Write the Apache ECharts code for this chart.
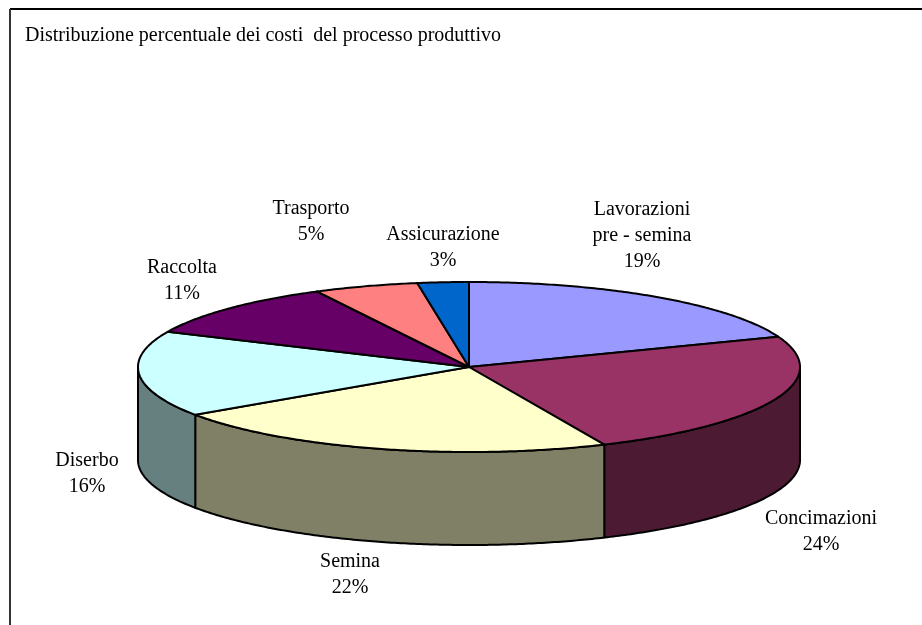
<!DOCTYPE html>
<html>
<head>
<meta charset="utf-8">
<title>Distribuzione percentuale dei costi</title>
<style>
  html, body { margin: 0; padding: 0; background: #fff; }
  #main { width: 922px; height: 625px; }
</style>
</head>
<body>
<div id="main"></div>
<script src="https://cdn.jsdelivr.net/npm/echarts@6/dist/echarts.min.js"></script>
<script>
const categories = ["Lavorazioni\npre - semina", "Concimazioni", "Semina", "Diserbo", "Raccolta", "Trasporto", "Assicurazione"];
const values = [19.2, 24.1, 22.2, 16.3, 10.6, 5.1, 2.5];
const topColors = ["#9999FF", "#993366", "#FFFFCC", "#CCFFFF", "#660066", "#FF8080", "#0066CC"];
const wallColors = ["#4D4D80", "#4D1A33", "#808066", "#668080", "#330033", "#804040", "#003366"];
// label centres, first line of text to last
const labelPos = [[642, 236], [821, 532], [350, 575], [87, 474], [182, 281], [311, 222], [443, 248]];

const cx = 469, cy = 367, rx = 331, ry = 85, depth = 93;
const total = values.reduce((a, b) => a + b, 0);

// angle is clockwise from the top of the ellipse
const pt = (a, dy) => [cx + rx * Math.sin(a), cy - ry * Math.cos(a) + (dy || 0)];

const arc = (from, to, dy) => {
  const n = Math.max(2, Math.ceil((to - from) / 0.01));
  const pts = [];
  for (let i = 0; i <= n; i++) pts.push(pt(from + (to - from) * i / n, dy));
  return pts;
};

const renderSlice = (params, api) => {
  const i = params.dataIndex;
  let before = 0;
  for (let k = 0; k < i; k++) before += values[k];
  const a0 = before / total * Math.PI * 2;
  const a1 = (before + api.value(0)) / total * Math.PI * 2;
  const children = [];

  // only the part of the rim facing the viewer has a wall
  const w0 = Math.max(a0, Math.PI / 2);
  const w1 = Math.min(a1, Math.PI * 1.5);
  if (w1 > w0) {
    children.push({
      type: "polygon",
      shape: { points: arc(w0, w1, 0).concat(arc(w0, w1, depth).reverse()) },
      style: { fill: wallColors[i], stroke: "#000", lineWidth: 2, lineJoin: "round" }
    });
  }
  children.push({
    type: "polygon",
    shape: { points: [[cx, cy]].concat(arc(a0, a1, 0)) },
    style: { fill: topColors[i], stroke: "#000", lineWidth: 2, lineJoin: "round" }
  });
  children.push({
    type: "text",
    style: {
      x: labelPos[i][0],
      y: labelPos[i][1],
      text: categories[i] + "\n" + Math.round(api.value(0)) + "%",
      fill: "#000",
      font: '20px "Liberation Serif"',
      lineHeight: 26,
      align: "center",
      verticalAlign: "middle"
    }
  });
  return { type: "group", children };
};

const chart = echarts.init(document.getElementById("main"));
chart.setOption({
  animation: false,
  backgroundColor: "#fff",
  title: {
    text: "Distribuzione percentuale dei costi  del processo produttivo",
    left: 20,
    top: 21,
    textStyle: { fontFamily: "Liberation Serif", fontSize: 20, fontWeight: "normal", color: "#000" }
  },
  graphic: [
    { type: "line", shape: { x1: 10, y1: 9, x2: 922, y2: 9 }, style: { stroke: "#000", lineWidth: 2 } },
    { type: "line", shape: { x1: 10, y1: 9, x2: 10, y2: 625 }, style: { stroke: "#333", lineWidth: 2 } }
  ],
  series: [{
    type: "custom",
    coordinateSystem: "none",
    renderItem: renderSlice,
    data: values.map(v => [v])
  }]
});
</script>
</body>
</html>
